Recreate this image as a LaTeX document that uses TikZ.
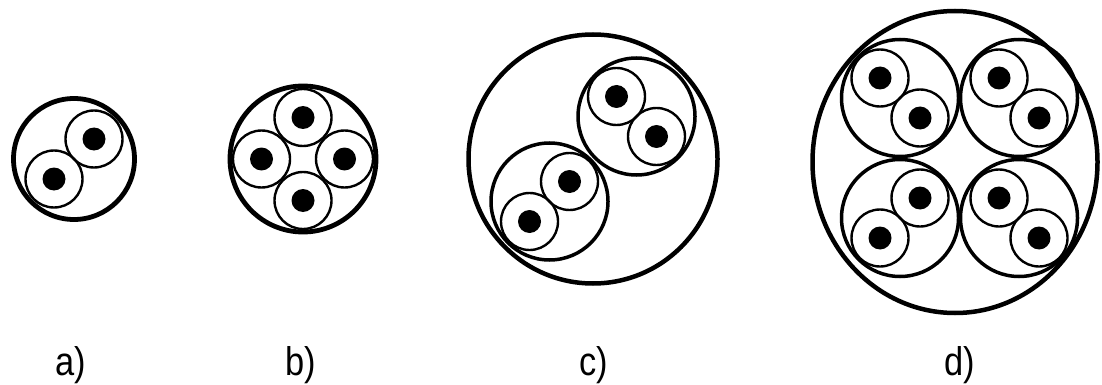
\documentclass[tikz,border=0pt]{standalone}
\usepackage{fontspec}
\setmainfont{Liberation Sans}
\usetikzlibrary{shapes.geometric}

\begin{document}
\begin{tikzpicture}[x=1pt, y=-1pt,
    sheath/.style={circle, draw, line width=4.8pt, inner sep=0pt},
    cable/.style={circle, draw, line width=3.5pt, inner sep=0pt, minimum size=117pt},
    core/.style={circle, draw, line width=2.4pt, inner sep=0pt, minimum size=57pt,
      path picture={\fill (path picture bounding box.center) circle (11.5pt);}},
    figlabel/.style={anchor=base, xscale=0.86, inner sep=0pt, font=\fontsize{40}{40}\selectfont}
  ]
  \useasboundingbox (0,0) rectangle (1102,385);

  % === a) one pair ===
  \node[sheath, minimum size=121pt] (aOut) at (74,159) {};
  \node[core] (a1) at (94,139) {};
  \node[core] (a2) at (54,179) {};
  \node[figlabel] (aLab) at (71,375) {a)};

  % === b) four cores ===
  \node[sheath, minimum size=146pt] (bOut) at (303,159) {};
  \node[core] (b1) at (303,117.5) {};
  \node[core] (b2) at (261.5,159) {};
  \node[core] (b3) at (344.5,159) {};
  \node[core] (b4) at (303,200.5) {};
  \node[figlabel] (bLab) at (301,375) {b)};

  % === c) two pairs ===
  \node[sheath, line width=4.5pt, minimum size=249pt] (cOut) at (593,159) {};
  \node[cable] (cUR) at (636.5,116.5) {};
  \node[cable] (cLL) at (549.5,201.5) {};
  \node[core] (c1) at (616.5,96.5) {};
  \node[core] (c2) at (656.5,136.5) {};
  \node[core] (c3) at (569.5,181.5) {};
  \node[core] (c4) at (529.5,221.5) {};
  \node[figlabel] (cLab) at (594,375) {c)};

  % === d) four pairs ===
  \node[sheath, ellipse, line width=4.5pt, minimum width=285pt, minimum height=302pt] (dOut) at (955,162) {};
  \node[cable] (dUL) at (900,98) {};
  \node[cable] (dUR) at (1019,98) {};
  \node[cable] (dLL) at (900,218) {};
  \node[cable] (dLR) at (1019,218) {};
  \node[core] (d1) at (880,78) {};
  \node[core] (d2) at (920,118) {};
  \node[core] (d3) at (999,78) {};
  \node[core] (d4) at (1039,118) {};
  \node[core] (d5) at (920,198) {};
  \node[core] (d6) at (880,238) {};
  \node[core] (d7) at (999,198) {};
  \node[core] (d8) at (1039,238) {};
  \node[figlabel] (dLab) at (960,375) {d)};
\end{tikzpicture}
\end{document}
